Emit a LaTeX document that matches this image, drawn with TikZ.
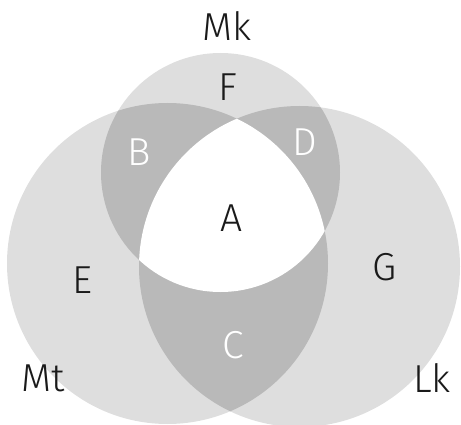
\documentclass[tikz,border=0pt]{standalone}
\usepackage{fontspec}
\setmainfont{Fira Sans Light}
\definecolor{lightg}{HTML}{DEDEDE}
\definecolor{darkg}{HTML}{B9B9B9}
\definecolor{txt}{HTML}{1A1A1A}
\begin{document}
\begin{tikzpicture}[x=1pt,y=-1pt,
  lab/.style={font=\fontsize{39}{39}\selectfont, text=txt, inner sep=0pt, anchor=center},
  wlab/.style={lab, text=white}]
\useasboundingbox (0,0) rectangle (461,425);
\def\mkc{(220.5,172.5) circle (119.5)}
\def\mtc{(167.5,263.5) circle (160.5)}
\def\lkc{(299.5,266.5) circle (160.5)}
\clip (0,0) rectangle (461,425);
% single regions
\fill[lightg] \mkc;
\fill[lightg] \mtc;
\fill[lightg] \lkc;
% pairwise overlaps
\begin{scope}\clip \mkc; \fill[darkg] \mtc; \end{scope}
\begin{scope}\clip \mkc; \fill[darkg] \lkc; \end{scope}
\begin{scope}\clip \mtc; \fill[darkg] \lkc; \end{scope}
% triple overlap
\begin{scope}\clip \mkc; \clip \mtc; \fill[white] \lkc; \end{scope}
% labels
\node[lab] (mk) at (227,26) {Mk};
\node[lab] (f) at (228,87) {F};
\node[wlab] (b) at (139,152) {B};
\node[wlab] (d) at (305,142) {D};
\node[lab] (a) at (232,218) {A};
\node[lab] (e) at (82,280) {E};
\node[lab] (g) at (385,267) {G};
\node[wlab] (c) at (233,345) {C};
\node[lab] (mt) at (43,378) {Mt};
\node[lab] (lk) at (432,378) {Lk};
\end{tikzpicture}
\end{document}
